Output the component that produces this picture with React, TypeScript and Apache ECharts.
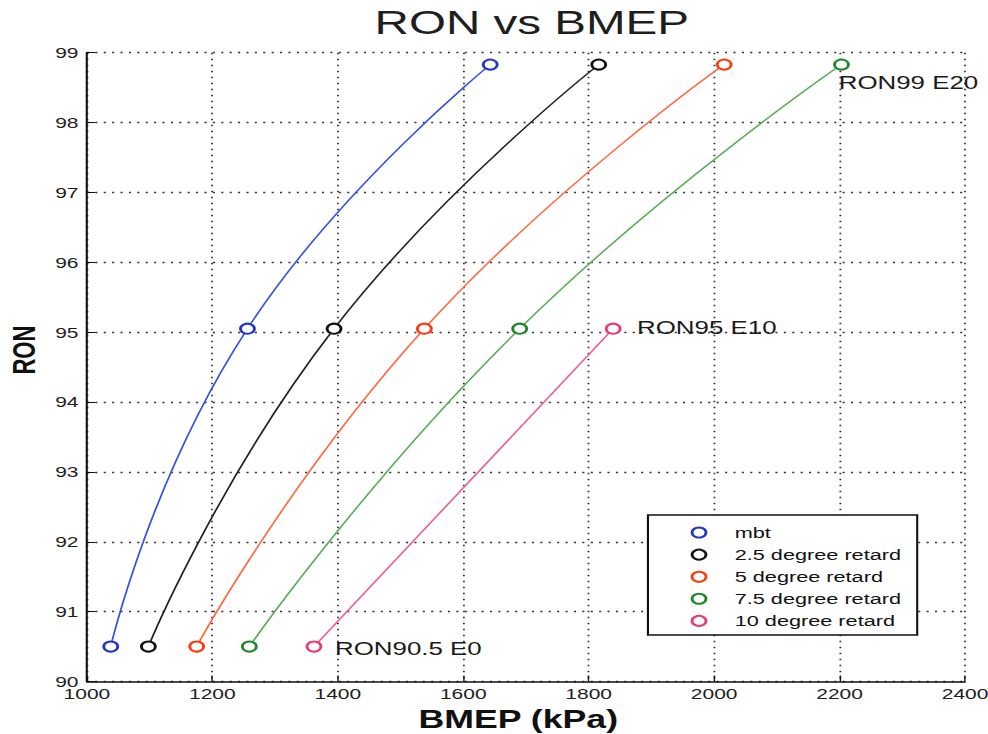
import React, { useEffect, useRef } from "react";
import * as echarts from "echarts";

// ---- data ----
const SERIES_NAMES = [
  "mbt",
  "2.5 degree retard",
  "5 degree retard",
  "7.5 degree retard",
  "10 degree retard",
];
const RON_LEVELS = [90.5, 95.05, 98.83];
const BMEP_MBT = [1038, 1256, 1643];
const BMEP_RET25 = [1098, 1394, 1816];
const BMEP_RET5 = [1175, 1538, 2016];
const BMEP_RET75 = [1259, 1690, 2203];
const BMEP_RET10 = [1362, 1839];
const FUEL_LABELS = ["RON90.5 E0", "RON95 E10", "RON99 E20"];

const X_MIN = 1000;
const X_MAX = 2400;
const X_STEP = 200;
const Y_MIN = 90;
const Y_MAX = 99;
const Y_STEP = 1;

const MARKER_COLORS = ["#2236c8", "#111111", "#ff3a12", "#23862a", "#ec3a74"];
const LINE_COLORS = ["#3556d8", "#222222", "#ff6a40", "#5aae5a", "#ee5c98"];

// the reference is horizontally stretched; draw narrower and stretch
const OUT_W = 988;
const OUT_H = 734;
const IN_W = 706;
const SX = OUT_W / IN_W;
const FONT = "'Liberation Sans', Arial, Helvetica, sans-serif";

export default function App() {
  const ref = useRef<HTMLDivElement>(null);

  useEffect(() => {
    if (!ref.current) return;
    const chart = echarts.init(ref.current, null, { renderer: "svg" });

    const sets = [BMEP_MBT, BMEP_RET25, BMEP_RET5, BMEP_RET75, BMEP_RET10];
    // label annotations: [seriesIndex, pointIndex, textIndex, dx, dy]
    const notes: [number, number, number, number, number][] = [
      [4, 0, 0, 16, 3],
      [4, 1, 1, 18, 0],
      [3, 2, 2, -1, 19],
    ];

    const series = sets.map((xs, i) => ({
      name: SERIES_NAMES[i],
      type: "line",
      smooth: 0.5,
      symbol: "emptyCircle",
      symbolSize: 10,
      showAllSymbol: true,
      lineStyle: { color: LINE_COLORS[i], width: 1.3 },
      itemStyle: { color: MARKER_COLORS[i], borderColor: MARKER_COLORS[i], borderWidth: 2 },
      emphasis: { disabled: true },
      data: xs.map((x, j) => {
        const note = notes.find((n) => n[0] === i && n[1] === j);
        const item: any = { value: [x, RON_LEVELS[j]] };
        if (note) {
          item.label = {
            show: true,
            formatter: FUEL_LABELS[note[2]],
            position: [5 + note[3], 5 + note[4]],
            align: "left",
            verticalAlign: "middle",
            fontFamily: FONT,
            fontSize: 18.5,
            color: "#1a1a1a",
          };
        }
        return item;
      }),
    }));

    chart.setOption({
      animation: false,
      backgroundColor: "#ffffff",
      title: {
        text: "RON vs BMEP",
        left: 380,
        top: 5.5,
        textAlign: "center",
        padding: 0,
        textStyle: { fontFamily: FONT, fontSize: 34, fontWeight: "normal", color: "#1e1e1e" },
      },
      grid: { left: 62.1, right: 16.4, top: 52.7, bottom: 52.5, containLabel: false, outerBoundsMode: "none" },
      legend: {
        orient: "vertical",
        left: 463,
        top: 515,
        icon: "emptyCircle",
        itemWidth: 41,
        itemHeight: 10,
        itemGap: 6.1,
        padding: [9.5, 11.5, 6, 30.5],
        backgroundColor: "#ffffff",
        borderColor: "#111111",
        borderWidth: 1.5,
        textStyle: { fontFamily: FONT, fontSize: 15.5, color: "#111111" },
        data: SERIES_NAMES,
      },
      xAxis: {
        type: "value",
        min: X_MIN,
        max: X_MAX,
        interval: X_STEP,
        name: "BMEP (kPa)",
        nameLocation: "middle",
        nameGap: 24.5,
        nameTextStyle: {
          fontFamily: FONT,
          fontSize: 25.5,
          fontWeight: "bold",
          color: "#111111",
          padding: [0, 11, 0, 0],
        },
        axisLine: { show: true, onZero: false, lineStyle: { color: "#111111", width: 1.5 } },
        axisTick: { show: true, inside: true, length: 6, lineStyle: { color: "#111111", width: 1 } },
        axisLabel: {
          fontFamily: FONT,
          fontSize: 15,
          lineHeight: 13,
          color: "#1e1e1e",
          margin: 6,
          formatter: (v: number) => String(v),
        },
        splitLine: { show: true, lineStyle: { type: [1.5, 4.5], color: "#333333", width: 1.3 } },
      },
      yAxis: {
        type: "value",
        min: Y_MIN,
        max: Y_MAX,
        interval: Y_STEP,
        name: "RON",
        nameLocation: "middle",
        nameGap: 32.6,
        nameTextStyle: {
          fontFamily: FONT,
          fontSize: 22,
          fontWeight: "bold",
          color: "#111111",
          padding: [0, 0, 0, 34],
        },
        axisLine: { show: true, onZero: false, lineStyle: { color: "#111111", width: 1.5 } },
        axisTick: { show: true, inside: true, length: 6, lineStyle: { color: "#111111", width: 1 } },
        axisLabel: {
          fontFamily: FONT,
          fontSize: 15,
          lineHeight: 11,
          color: "#1e1e1e",
          margin: 6,
          formatter: (v: number) => String(v),
        },
        splitLine: { show: true, lineStyle: { type: [1.5, 4.5], color: "#333333", width: 1.3 } },
      },
      series,
    });

    return () => chart.dispose();
  }, []);

  return (
    <div
      style={{
        position: "absolute",
        left: 0,
        top: 0,
        width: OUT_W,
        height: OUT_H,
        overflow: "hidden",
        background: "#fff",
      }}
    >
      <div
        ref={ref}
        style={{
          width: IN_W,
          height: OUT_H,
          transform: `scaleX(${SX})`,
          transformOrigin: "0 0",
        }}
      />
    </div>
  );
}
